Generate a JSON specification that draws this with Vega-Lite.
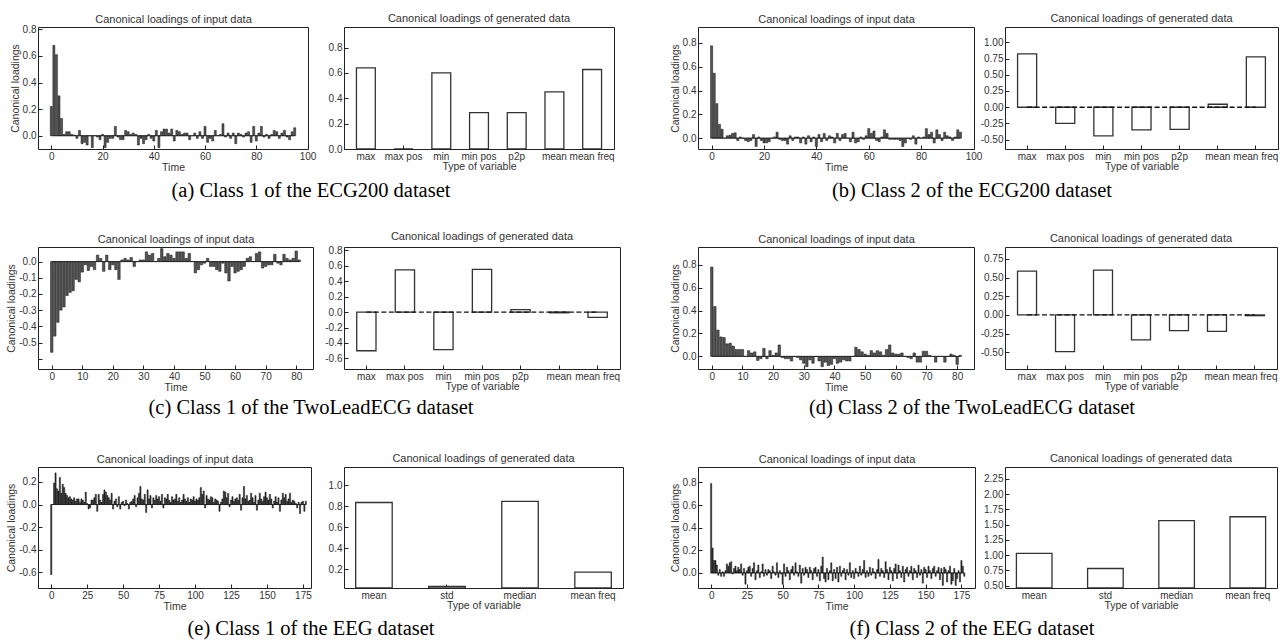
{
"$schema": "https://vega.github.io/schema/vega-lite/v6.json",
"padding": {"left": 6, "top": 12, "right": 0, "bottom": 0},
"config": {
 "view": {"stroke": "#222", "strokeWidth": 1},
 "axis": {"domain": false, "grid": false, "ticks": true, "offset": -4, "tickSize": 4, "tickColor": "#222", "tickWidth": 1, "labelFont": "Liberation Sans", "labelFontSize": 10, "labelColor": "#333", "labelPadding": 2, "labelFlush": false, "labelOverlap": false, "labelBound": false, "titleFont": "Liberation Sans", "titleFontSize": 10.5, "titleFontWeight": "normal", "titleColor": "#333", "titlePadding": 1},
 "axisY": {"titlePadding": 2},
 "title": {"font": "Liberation Sans", "fontSize": 11, "fontWeight": "normal", "color": "#333", "offset": 3, "frame": "group"},
 "locale": {"number": {"decimal": ".", "thousands": ",", "grouping": [3], "currency": ["$", ""], "minus": "-"}}
},
"datasets": {
 "a_in": [{"t":0,"v":0.22},{"t":1,"v":0.68},{"t":2,"v":0.61},{"t":3,"v":0.30},{"t":4,"v":0.13},{"t":5,"v":0.01},{"t":6,"v":0.03},{"t":7,"v":0.03},{"t":8,"v":0.01},{"t":9,"v":0.005},
  {"t":10,"v":-0.02},{"t":11,"v":0.04},{"t":12,"v":-0.06},{"t":13,"v":-0.05},{"t":14,"v":-0.07},{"t":15,"v":0.0},{"t":16,"v":-0.09},{"t":17,"v":0.0},{"t":18,"v":-0.01},{"t":19,"v":-0.03},
  {"t":20,"v":0.01},{"t":21,"v":-0.09},{"t":22,"v":-0.05},{"t":23,"v":-0.02},{"t":24,"v":-0.02},{"t":25,"v":0.07},{"t":26,"v":-0.01},{"t":27,"v":-0.03},{"t":28,"v":-0.03},{"t":29,"v":0.04},
  {"t":30,"v":0.03},{"t":31,"v":0.01},{"t":32,"v":0.02},{"t":33,"v":0.01},{"t":34,"v":-0.07},{"t":35,"v":-0.02},{"t":36,"v":-0.06},{"t":37,"v":-0.03},{"t":38,"v":0.01},{"t":39,"v":-0.02},
  {"t":40,"v":-0.04},{"t":41,"v":0.04},{"t":42,"v":-0.09},{"t":43,"v":0.03},{"t":44,"v":0.05},{"t":45,"v":0.05},{"t":46,"v":0.02},{"t":47,"v":0.05},{"t":48,"v":-0.04},{"t":49,"v":0.04},
  {"t":50,"v":0.03},{"t":51,"v":0.01},{"t":52,"v":0.02},{"t":53,"v":0.02},{"t":54,"v":-0.03},{"t":55,"v":0.0},{"t":56,"v":0.02},{"t":57,"v":-0.02},{"t":58,"v":0.03},{"t":59,"v":-0.02},
  {"t":60,"v":0.07},{"t":61,"v":-0.05},{"t":62,"v":-0.02},{"t":63,"v":-0.04},{"t":64,"v":0.04},{"t":65,"v":0.0},{"t":66,"v":0.01},{"t":67,"v":0.09},{"t":68,"v":-0.01},{"t":69,"v":0.02},
  {"t":70,"v":-0.02},{"t":71,"v":0.02},{"t":72,"v":-0.06},{"t":73,"v":0.02},{"t":74,"v":0.01},{"t":75,"v":-0.01},{"t":76,"v":0.02},{"t":77,"v":0.03},{"t":78,"v":-0.05},{"t":79,"v":0.07},
  {"t":80,"v":-0.04},{"t":81,"v":0.02},{"t":82,"v":0.07},{"t":83,"v":-0.01},{"t":84,"v":0.01},{"t":85,"v":-0.02},{"t":86,"v":0.01},{"t":87,"v":0.04},{"t":88,"v":0.03},{"t":89,"v":-0.02},
  {"t":90,"v":0.02},{"t":91,"v":0.04},{"t":92,"v":-0.01},{"t":93,"v":-0.03},{"t":94,"v":0.03},{"t":95,"v":0.06}],
 "b_in": [{"t":0,"v":0.775},{"t":1,"v":0.545},{"t":2,"v":0.29},{"t":3,"v":0.115},{"t":4,"v":0.075},{"t":5,"v":0.0},{"t":6,"v":0.02},{"t":7,"v":0.025},{"t":8,"v":0.04},{"t":9,"v":0.045},
  {"t":10,"v":-0.02},{"t":11,"v":0.01},{"t":12,"v":0.0},{"t":13,"v":-0.02},{"t":14,"v":-0.03},{"t":15,"v":-0.02},{"t":16,"v":0.03},{"t":17,"v":-0.07},{"t":18,"v":0.01},{"t":19,"v":-0.02},
  {"t":20,"v":-0.04},{"t":21,"v":-0.04},{"t":22,"v":-0.03},{"t":23,"v":0.0},{"t":24,"v":0.01},{"t":25,"v":0.05},{"t":26,"v":-0.01},{"t":27,"v":-0.02},{"t":28,"v":-0.02},{"t":29,"v":-0.05},
  {"t":30,"v":0.02},{"t":31,"v":-0.02},{"t":32,"v":0.01},{"t":33,"v":0.01},{"t":34,"v":-0.04},{"t":35,"v":0.01},{"t":36,"v":-0.05},{"t":37,"v":0.02},{"t":38,"v":-0.03},{"t":39,"v":0.01},
  {"t":40,"v":-0.07},{"t":41,"v":0.03},{"t":42,"v":-0.03},{"t":43,"v":0.04},{"t":44,"v":-0.02},{"t":45,"v":0.02},{"t":46,"v":0.01},{"t":47,"v":-0.04},{"t":48,"v":0.04},{"t":49,"v":-0.02},
  {"t":50,"v":0.03},{"t":51,"v":0.04},{"t":52,"v":0.0},{"t":53,"v":-0.03},{"t":54,"v":0.05},{"t":55,"v":-0.04},{"t":56,"v":-0.03},{"t":57,"v":0.01},{"t":58,"v":-0.01},{"t":59,"v":0.02},
  {"t":60,"v":0.08},{"t":61,"v":0.04},{"t":62,"v":0.06},{"t":63,"v":-0.02},{"t":64,"v":-0.03},{"t":65,"v":0.01},{"t":66,"v":0.07},{"t":67,"v":0.04},{"t":68,"v":-0.01},{"t":69,"v":-0.01},
  {"t":70,"v":-0.01},{"t":71,"v":-0.01},{"t":72,"v":-0.02},{"t":73,"v":-0.07},{"t":74,"v":-0.04},{"t":75,"v":0.0},{"t":76,"v":-0.01},{"t":77,"v":0.02},{"t":78,"v":-0.05},{"t":79,"v":0.01},
  {"t":80,"v":0.0},{"t":81,"v":0.01},{"t":82,"v":0.08},{"t":83,"v":0.03},{"t":84,"v":0.05},{"t":85,"v":-0.04},{"t":86,"v":0.07},{"t":87,"v":0.03},{"t":88,"v":-0.02},{"t":89,"v":0.05},
  {"t":90,"v":0.02},{"t":91,"v":0.01},{"t":92,"v":-0.02},{"t":93,"v":0.01},{"t":94,"v":0.07},{"t":95,"v":0.05}],
 "c_in": [{"t":0,"v":-0.56},{"t":1,"v":-0.46},{"t":2,"v":-0.375},{"t":3,"v":-0.30},{"t":4,"v":-0.28},{"t":5,"v":-0.21},{"t":6,"v":-0.19},{"t":7,"v":-0.18},{"t":8,"v":-0.11},{"t":9,"v":-0.125},
  {"t":10,"v":-0.065},{"t":11,"v":-0.02},{"t":12,"v":-0.055},{"t":13,"v":-0.03},{"t":14,"v":-0.05},{"t":15,"v":0.04},{"t":16,"v":0.02},{"t":17,"v":-0.06},{"t":18,"v":0.04},{"t":19,"v":-0.05},
  {"t":20,"v":-0.02},{"t":21,"v":-0.05},{"t":22,"v":-0.11},{"t":23,"v":0.01},{"t":24,"v":0.02},{"t":25,"v":0.01},{"t":26,"v":0.025},{"t":27,"v":-0.03},{"t":28,"v":0.0},{"t":29,"v":0.01},
  {"t":30,"v":0.01},{"t":31,"v":0.06},{"t":32,"v":0.04},{"t":33,"v":0.05},{"t":34,"v":0.0},{"t":35,"v":0.02},{"t":36,"v":0.08},{"t":37,"v":0.03},{"t":38,"v":0.05},{"t":39,"v":0.04},
  {"t":40,"v":0.02},{"t":41,"v":0.06},{"t":42,"v":0.06},{"t":43,"v":0.06},{"t":44,"v":0.02},{"t":45,"v":0.05},{"t":46,"v":0.0},{"t":47,"v":-0.07},{"t":48,"v":-0.05},{"t":49,"v":-0.02},
  {"t":50,"v":-0.01},{"t":51,"v":0.02},{"t":52,"v":-0.03},{"t":53,"v":-0.03},{"t":54,"v":-0.05},{"t":55,"v":-0.06},{"t":56,"v":-0.01},{"t":57,"v":-0.07},{"t":58,"v":-0.12},{"t":59,"v":-0.03},
  {"t":60,"v":-0.07},{"t":61,"v":-0.06},{"t":62,"v":-0.05},{"t":63,"v":-0.03},{"t":64,"v":0.02},{"t":65,"v":0.03},{"t":66,"v":0.0},{"t":67,"v":0.05},{"t":68,"v":0.06},{"t":69,"v":-0.04},
  {"t":70,"v":-0.03},{"t":71,"v":-0.02},{"t":72,"v":-0.02},{"t":73,"v":0.045},{"t":74,"v":-0.01},{"t":75,"v":-0.02},{"t":76,"v":0.045},{"t":77,"v":0.02},{"t":78,"v":0.01},{"t":79,"v":0.02},
  {"t":80,"v":0.065},{"t":81,"v":0.01}],
 "d_in": [{"t":0,"v":0.78},{"t":1,"v":0.435},{"t":2,"v":0.23},{"t":3,"v":0.17},{"t":4,"v":0.165},{"t":5,"v":0.11},{"t":6,"v":0.115},{"t":7,"v":0.09},{"t":8,"v":0.06},{"t":9,"v":0.06},
  {"t":10,"v":0.06},{"t":11,"v":0.0},{"t":12,"v":0.05},{"t":13,"v":0.03},{"t":14,"v":0.04},{"t":15,"v":-0.035},{"t":16,"v":-0.02},{"t":17,"v":0.07},{"t":18,"v":-0.02},{"t":19,"v":0.05},
  {"t":20,"v":0.01},{"t":21,"v":0.03},{"t":22,"v":0.10},{"t":23,"v":-0.01},{"t":24,"v":-0.02},{"t":25,"v":-0.02},{"t":26,"v":-0.04},{"t":27,"v":0.0},{"t":28,"v":-0.01},{"t":29,"v":-0.03},
  {"t":30,"v":-0.06},{"t":31,"v":-0.09},{"t":32,"v":-0.03},{"t":33,"v":-0.06},{"t":34,"v":0.0},{"t":35,"v":-0.04},{"t":36,"v":-0.09},{"t":37,"v":-0.05},{"t":38,"v":-0.08},{"t":39,"v":-0.07},
  {"t":40,"v":-0.02},{"t":41,"v":-0.06},{"t":42,"v":-0.05},{"t":43,"v":-0.03},{"t":44,"v":-0.04},{"t":45,"v":-0.04},{"t":46,"v":0.0},{"t":47,"v":0.08},{"t":48,"v":0.06},{"t":49,"v":0.04},
  {"t":50,"v":0.02},{"t":51,"v":0.01},{"t":52,"v":0.05},{"t":53,"v":0.03},{"t":54,"v":0.05},{"t":55,"v":0.04},{"t":56,"v":0.01},{"t":57,"v":0.06},{"t":58,"v":0.10},{"t":59,"v":0.03},
  {"t":60,"v":0.02},{"t":61,"v":0.02},{"t":62,"v":0.03},{"t":63,"v":0.0},{"t":64,"v":-0.01},{"t":65,"v":-0.02},{"t":66,"v":0.03},{"t":67,"v":-0.05},{"t":68,"v":-0.05},{"t":69,"v":0.045},
  {"t":70,"v":0.045},{"t":71,"v":0.01},{"t":72,"v":0.0},{"t":73,"v":-0.05},{"t":74,"v":0.0},{"t":75,"v":0.0},{"t":76,"v":-0.05},{"t":77,"v":0.0},{"t":78,"v":0.02},{"t":79,"v":0.01},
  {"t":80,"v":-0.07},{"t":81,"v":0.01}],
 "e_in": [{"t":0,"v":-0.62},{"t":1,"v":0.0},{"t":2,"v":0.19},{"t":3,"v":0.28},{"t":4,"v":0.14},{"t":5,"v":0.12},{"t":6,"v":0.24},{"t":7,"v":0.10},{"t":8,"v":0.18},{"t":9,"v":0.15},
  {"t":10,"v":0.10},{"t":11,"v":0.08},{"t":12,"v":0.06},{"t":13,"v":0.07},{"t":14,"v":0.05},{"t":15,"v":0.04},{"t":16,"v":0.06},{"t":17,"v":0.03},{"t":18,"v":0.05},{"t":19,"v":0.05},
  {"t":20,"v":0.02},{"t":21,"v":0.05},{"t":22,"v":0.04},{"t":23,"v":0.02},{"t":24,"v":0.11},{"t":25,"v":0.01},{"t":26,"v":-0.04},{"t":27,"v":-0.03},{"t":28,"v":0.04},{"t":29,"v":0.04},
  {"t":30,"v":0.06},{"t":31,"v":0.09},{"t":32,"v":-0.06},{"t":33,"v":0.09},{"t":34,"v":0.04},{"t":35,"v":0.02},{"t":36,"v":0.09},{"t":37,"v":0.13},{"t":38,"v":0.11},{"t":39,"v":0.08},
  {"t":40,"v":0.06},{"t":41,"v":0.04},{"t":42,"v":0.10},{"t":43,"v":-0.04},{"t":44,"v":0.03},{"t":45,"v":0.05},{"t":46,"v":-0.02},{"t":47,"v":0.07},{"t":48,"v":-0.04},{"t":49,"v":0.02},
  {"t":50,"v":0.03},{"t":51,"v":-0.01},{"t":52,"v":0.04},{"t":53,"v":0.01},{"t":54,"v":-0.04},{"t":55,"v":0.02},{"t":56,"v":0.03},{"t":57,"v":0.05},{"t":58,"v":0.08},{"t":59,"v":-0.02},
  {"t":60,"v":0.06},{"t":61,"v":0.10},{"t":62,"v":0.16},{"t":63,"v":0.05},{"t":64,"v":0.04},{"t":65,"v":0.09},{"t":66,"v":-0.07},{"t":67,"v":0.13},{"t":68,"v":0.05},{"t":69,"v":0.08},
  {"t":70,"v":-0.03},{"t":71,"v":0.06},{"t":72,"v":0.04},{"t":73,"v":0.08},{"t":74,"v":0.05},{"t":75,"v":0.07},{"t":76,"v":0.03},{"t":77,"v":0.09},{"t":78,"v":-0.03},{"t":79,"v":0.06},
  {"t":80,"v":0.05},{"t":81,"v":0.09},{"t":82,"v":0.04},{"t":83,"v":0.02},{"t":84,"v":0.07},{"t":85,"v":0.04},{"t":86,"v":0.05},{"t":87,"v":0.09},{"t":88,"v":0.03},{"t":89,"v":0.06},
  {"t":90,"v":0.02},{"t":91,"v":0.04},{"t":92,"v":0.09},{"t":93,"v":0.05},{"t":94,"v":0.03},{"t":95,"v":0.06},{"t":96,"v":0.02},{"t":97,"v":0.05},{"t":98,"v":0.04},{"t":99,"v":0.07},
  {"t":100,"v":0.03},{"t":101,"v":0.05},{"t":102,"v":0.04},{"t":103,"v":0.06},{"t":104,"v":0.15},{"t":105,"v":0.09},{"t":106,"v":0.12},{"t":107,"v":-0.03},{"t":108,"v":0.08},{"t":109,"v":0.05},
  {"t":110,"v":0.04},{"t":111,"v":0.07},{"t":112,"v":0.06},{"t":113,"v":0.02},{"t":114,"v":0.05},{"t":115,"v":0.04},{"t":116,"v":0.03},{"t":117,"v":-0.06},{"t":118,"v":0.02},{"t":119,"v":0.05},
  {"t":120,"v":0.12},{"t":121,"v":0.11},{"t":122,"v":0.06},{"t":123,"v":0.10},{"t":124,"v":-0.02},{"t":125,"v":0.04},{"t":126,"v":0.07},{"t":127,"v":0.03},{"t":128,"v":0.05},{"t":129,"v":0.06},
  {"t":130,"v":0.04},{"t":131,"v":0.09},{"t":132,"v":-0.05},{"t":133,"v":0.06},{"t":134,"v":0.16},{"t":135,"v":0.05},{"t":136,"v":0.08},{"t":137,"v":0.03},{"t":138,"v":0.04},{"t":139,"v":0.10},
  {"t":140,"v":0.06},{"t":141,"v":0.02},{"t":142,"v":0.08},{"t":143,"v":-0.05},{"t":144,"v":0.04},{"t":145,"v":0.10},{"t":146,"v":0.05},{"t":147,"v":0.03},{"t":148,"v":0.07},{"t":149,"v":0.11},
  {"t":150,"v":0.06},{"t":151,"v":0.04},{"t":152,"v":0.09},{"t":153,"v":0.05},{"t":154,"v":-0.03},{"t":155,"v":0.03},{"t":156,"v":0.07},{"t":157,"v":0.02},{"t":158,"v":0.06},{"t":159,"v":-0.06},
  {"t":160,"v":0.04},{"t":161,"v":0.10},{"t":162,"v":0.06},{"t":163,"v":0.09},{"t":164,"v":0.03},{"t":165,"v":0.05},{"t":166,"v":0.10},{"t":167,"v":0.02},{"t":168,"v":0.04},{"t":169,"v":0.03},
  {"t":170,"v":0.01},{"t":171,"v":-0.03},{"t":172,"v":0.02},{"t":173,"v":-0.08},{"t":174,"v":0.02},{"t":175,"v":0.03},{"t":176,"v":-0.06},{"t":177,"v":0.03}],
 "f_in": [{"t":0,"v":0.79},{"t":1,"v":0.22},{"t":2,"v":0.11},{"t":3,"v":0.11},{"t":4,"v":0.07},{"t":5,"v":-0.02},{"t":6,"v":0.03},{"t":7,"v":-0.03},{"t":8,"v":0.01},{"t":9,"v":-0.03},
  {"t":10,"v":0.02},{"t":11,"v":0.08},{"t":12,"v":0.06},{"t":13,"v":0.09},{"t":14,"v":0.10},{"t":15,"v":-0.01},{"t":16,"v":0.04},{"t":17,"v":0.06},{"t":18,"v":0.02},{"t":19,"v":0.05},
  {"t":20,"v":0.03},{"t":21,"v":0.08},{"t":22,"v":-0.02},{"t":23,"v":0.04},{"t":24,"v":-0.10},{"t":25,"v":0.02},{"t":26,"v":0.05},{"t":27,"v":0.06},{"t":28,"v":-0.03},{"t":29,"v":0.04},
  {"t":30,"v":0.09},{"t":31,"v":-0.06},{"t":32,"v":0.02},{"t":33,"v":0.07},{"t":34,"v":-0.04},{"t":35,"v":0.01},{"t":36,"v":0.08},{"t":37,"v":-0.03},{"t":38,"v":0.03},{"t":39,"v":-0.02},
  {"t":40,"v":0.03},{"t":41,"v":0.02},{"t":42,"v":-0.05},{"t":43,"v":0.06},{"t":44,"v":0.01},{"t":45,"v":-0.02},{"t":46,"v":0.09},{"t":47,"v":-0.04},{"t":48,"v":0.02},{"t":49,"v":-0.01},
  {"t":50,"v":-0.10},{"t":51,"v":0.08},{"t":52,"v":-0.03},{"t":53,"v":0.05},{"t":54,"v":0.02},{"t":55,"v":-0.06},{"t":56,"v":0.03},{"t":57,"v":0.06},{"t":58,"v":-0.02},{"t":59,"v":0.09},
  {"t":60,"v":0.01},{"t":61,"v":-0.03},{"t":62,"v":0.07},{"t":63,"v":-0.09},{"t":64,"v":0.04},{"t":65,"v":-0.02},{"t":66,"v":0.05},{"t":67,"v":0.03},{"t":68,"v":-0.04},{"t":69,"v":0.05},
  {"t":70,"v":0.02},{"t":71,"v":-0.06},{"t":72,"v":0.04},{"t":73,"v":0.05},{"t":74,"v":-0.03},{"t":75,"v":0.03},{"t":76,"v":-0.07},{"t":77,"v":0.06},{"t":78,"v":0.14},{"t":79,"v":-0.05},
  {"t":80,"v":-0.08},{"t":81,"v":0.04},{"t":82,"v":-0.06},{"t":83,"v":0.02},{"t":84,"v":0.09},{"t":85,"v":-0.07},{"t":86,"v":0.03},{"t":87,"v":-0.05},{"t":88,"v":0.05},{"t":89,"v":-0.08},
  {"t":90,"v":0.06},{"t":91,"v":-0.03},{"t":92,"v":0.02},{"t":93,"v":0.04},{"t":94,"v":-0.06},{"t":95,"v":0.03},{"t":96,"v":-0.02},{"t":97,"v":0.09},{"t":98,"v":-0.04},{"t":99,"v":0.02},
  {"t":100,"v":-0.05},{"t":101,"v":0.04},{"t":102,"v":0.01},{"t":103,"v":-0.03},{"t":104,"v":0.06},{"t":105,"v":-0.02},{"t":106,"v":0.03},{"t":107,"v":0.11},{"t":108,"v":-0.04},{"t":109,"v":0.02},
  {"t":110,"v":-0.03},{"t":111,"v":0.05},{"t":112,"v":-0.02},{"t":113,"v":0.04},{"t":114,"v":0.01},{"t":115,"v":-0.05},{"t":116,"v":0.03},{"t":117,"v":0.12},{"t":118,"v":-0.03},{"t":119,"v":0.04},
  {"t":120,"v":0.02},{"t":121,"v":-0.04},{"t":122,"v":0.10},{"t":123,"v":0.03},{"t":124,"v":-0.06},{"t":125,"v":0.05},{"t":126,"v":0.02},{"t":127,"v":-0.07},{"t":128,"v":0.04},{"t":129,"v":0.08},
  {"t":130,"v":-0.05},{"t":131,"v":0.07},{"t":132,"v":0.02},{"t":133,"v":-0.04},{"t":134,"v":0.06},{"t":135,"v":-0.08},{"t":136,"v":0.03},{"t":137,"v":0.05},{"t":138,"v":-0.03},{"t":139,"v":0.02},
  {"t":140,"v":0.06},{"t":141,"v":-0.06},{"t":142,"v":0.04},{"t":143,"v":0.02},{"t":144,"v":-0.04},{"t":145,"v":0.07},{"t":146,"v":-0.02},{"t":147,"v":0.03},{"t":148,"v":-0.09},{"t":149,"v":0.05},
  {"t":150,"v":0.03},{"t":151,"v":-0.04},{"t":152,"v":0.06},{"t":153,"v":0.02},{"t":154,"v":-0.05},{"t":155,"v":0.04},{"t":156,"v":0.06},{"t":157,"v":-0.03},{"t":158,"v":0.02},{"t":159,"v":0.05},
  {"t":160,"v":-0.06},{"t":161,"v":0.04},{"t":162,"v":-0.11},{"t":163,"v":0.05},{"t":164,"v":0.03},{"t":165,"v":-0.08},{"t":166,"v":0.02},{"t":167,"v":0.06},{"t":168,"v":-0.10},{"t":169,"v":-0.07},
  {"t":170,"v":0.04},{"t":171,"v":-0.11},{"t":172,"v":-0.05},{"t":173,"v":0.02},{"t":174,"v":-0.08},{"t":175,"v":0.11},{"t":176,"v":0.06},{"t":177,"v":-0.03}],
 "a_gen": [{"k":"max","v":0.64},{"k":"max pos","v":0.0},{"k":"min","v":0.6},{"k":"min pos","v":0.287},{"k":"p2p","v":0.287},{"k":"mean","v":0.45},{"k":"mean freq","v":0.627}],
 "b_gen": [{"k":"max","v":0.82},{"k":"max pos","v":-0.25},{"k":"min","v":-0.44},{"k":"min pos","v":-0.35},{"k":"p2p","v":-0.34},{"k":"mean","v":0.046},{"k":"mean freq","v":0.775}],
 "c_gen": [{"k":"max","v":-0.5},{"k":"max pos","v":0.545},{"k":"min","v":-0.485},{"k":"min pos","v":0.55},{"k":"p2p","v":0.03},{"k":"mean","v":-0.01},{"k":"mean freq","v":-0.07}],
 "d_gen": [{"k":"max","v":0.587},{"k":"max pos","v":-0.49},{"k":"min","v":0.6},{"k":"min pos","v":-0.333},{"k":"p2p","v":-0.21},{"k":"mean","v":-0.22},{"k":"mean freq","v":-0.01}],
 "e_gen": [{"k":"mean","v":0.836},{"k":"std","v":0.04},{"k":"median","v":0.846},{"k":"mean freq","v":0.175}],
 "f_gen": [{"k":"mean","v":1.03},{"k":"std","v":0.78},{"k":"median","v":1.567},{"k":"mean freq","v":1.63}]
},
"spacing": 45,
"hconcat": [
 {"columns": 2, "bounds": "flush", "spacing": {"row": 98, "column": 31},
  "concat": [
   {"width": 270, "height": 122, "data": {"name": "a_in"},
    "title": {"text": "(a) Class 1 of the ECG200 dataset", "orient": "bottom", "anchor": "middle", "font": "Liberation Serif", "fontSize": 20.5, "color": "#000", "dx": 138, "offset": 8},
    "resolve": {"axis": {"x": "independent", "y": "independent"}},
    "layer": [
     {"mark": {"type": "bar", "orient": "vertical", "size": 2.0, "fill": "#555", "stroke": "#111", "strokeWidth": 0.5, "clip": true},
      "encoding": {"x": {"field": "t", "type": "quantitative", "scale": {"domain": [-5.19, 100.19], "nice": false, "padding": 0}, "axis": {"values": [0,20,40,60,80,100], "title": "Time", "labelOverlap": false}},
                   "y": {"field": "v", "type": "quantitative", "stack": null, "scale": {"domain": [-0.1, 0.818], "nice": false}, "axis": {"values": [0,0.2,0.4,0.6,0.8], "format": ".1f", "title": "Canonical loadings", "labelOverlap": false}}}},
     {"mark": {"type": "line", "color": "#111", "strokeWidth": 0.8},
      "encoding": {"x": {"field": "t", "type": "quantitative", "axis": {"orient": "top", "offset": 0, "title": "Canonical loadings of input data", "titleFontSize": 11, "labels": false, "ticks": false, "domain": false, "titlePadding": 3}},
                   "y": {"datum": 0, "type": "quantitative", "axis": null}}}
    ]},
   {"width": 270, "height": 122, "data": {"name": "a_gen"},
    "title": "Canonical loadings of generated data",
    "mark": {"type": "bar", "fill": "#fff", "stroke": "#333", "strokeWidth": 1.3, "clip": true},
    "encoding": {"x": {"field": "k", "type": "nominal", "scale": {"domain": ["max","max pos","min","min pos","p2p","mean","mean freq"], "paddingInner": 0.5, "paddingOuter": 0.33}, "axis": {"title": "Type of variable", "labelAngle": 0, "bandPosition": 0.5, "titlePadding": 0, "labelOverlap": false}},
                 "y": {"field": "v", "type": "quantitative", "stack": null, "scale": {"domain": [0, 0.962], "nice": false}, "axis": {"values": [0,0.2,0.4,0.6,0.8], "format": ".1f", "title": null, "labelOverlap": false}}}},
   {"width": 275, "height": 122, "data": {"name": "c_in"},
    "title": {"text": "(c) Class 1 of the TwoLeadECG dataset", "orient": "bottom", "anchor": "middle", "font": "Liberation Serif", "fontSize": 20.5, "color": "#000", "dx": 135.5, "offset": 5},
    "resolve": {"axis": {"x": "independent", "y": "independent"}},
    "layer": [
     {"mark": {"type": "bar", "orient": "vertical", "size": 2.45, "fill": "#555", "stroke": "#111", "strokeWidth": 0.5, "clip": true},
      "encoding": {"x": {"field": "t", "type": "quantitative", "scale": {"domain": [-4.49, 85.49], "nice": false, "padding": 0}, "axis": {"values": [0,10,20,30,40,50,60,70,80], "title": "Time", "labelOverlap": false}},
                   "y": {"field": "v", "type": "quantitative", "stack": null, "scale": {"domain": [-0.663, 0.09], "nice": false}, "axis": {"values": [0,-0.1,-0.2,-0.3,-0.4,-0.5,-0.6], "labelExpr": "datum.value < -0.55 ? '' : format(datum.value, '.1f')", "title": "Canonical loadings", "labelOverlap": false}}}},
     {"mark": {"type": "line", "color": "#111", "strokeWidth": 0.8},
      "encoding": {"x": {"field": "t", "type": "quantitative", "axis": {"orient": "top", "offset": 0, "title": "Canonical loadings of input data", "titleFontSize": 11, "labels": false, "ticks": false, "domain": false, "titlePadding": 3}},
                   "y": {"datum": 0, "type": "quantitative", "axis": null}}}
    ]},
   {"width": 276, "height": 122, "data": {"name": "c_gen"},
    "title": "Canonical loadings of generated data",
    "resolve": {"axis": {"x": "independent", "y": "independent"}},
    "layer": [
     {"mark": {"type": "bar", "fill": "#fff", "stroke": "#333", "strokeWidth": 1.3, "clip": true},
      "encoding": {"x": {"field": "k", "type": "nominal", "scale": {"domain": ["max","max pos","min","min pos","p2p","mean","mean freq"], "paddingInner": 0.5, "paddingOuter": 0.33}, "axis": {"title": "Type of variable", "labelAngle": 0, "bandPosition": 0.5, "titlePadding": 0, "labelOverlap": false}},
                   "y": {"field": "v", "type": "quantitative", "stack": null, "scale": {"domain": [-0.736, 0.84], "nice": false}, "axis": {"values": [-0.6,-0.4,-0.2,0,0.2,0.4,0.6,0.8], "format": ".1f", "title": null, "labelOverlap": false}}}},
     {"mark": {"type": "line", "color": "#111", "strokeWidth": 1.3, "strokeDash": [5, 2.5]},
      "encoding": {"x": {"field": "k", "type": "nominal", "axis": null}, "y": {"datum": 0, "type": "quantitative", "axis": null}}}
    ]},
   {"width": 273, "height": 121, "data": {"name": "e_in"},
    "title": {"text": "(e) Class 1 of the EEG dataset", "orient": "bottom", "anchor": "middle", "font": "Liberation Serif", "fontSize": 20.5, "color": "#000", "dx": 136.5, "offset": 7},
    "resolve": {"axis": {"x": "independent", "y": "independent"}},
    "layer": [
     {"mark": {"type": "bar", "orient": "vertical", "size": 1.15, "fill": "#333", "stroke": "#111", "strokeWidth": 0.5, "clip": true},
      "encoding": {"x": {"field": "t", "type": "quantitative", "scale": {"domain": [-9.2, 180.6], "nice": false, "padding": 0}, "axis": {"values": [0,25,50,75,100,125,150,175], "title": "Time", "labelOverlap": false}},
                   "y": {"field": "v", "type": "quantitative", "stack": null, "scale": {"domain": [-0.738, 0.332], "nice": false}, "axis": {"values": [-0.6,-0.4,-0.2,0,0.2], "format": ".1f", "title": "Canonical loadings", "labelOverlap": false}}}},
     {"mark": {"type": "line", "color": "#111", "strokeWidth": 0.8},
      "encoding": {"x": {"field": "t", "type": "quantitative", "axis": {"orient": "top", "offset": 0, "title": "Canonical loadings of input data", "titleFontSize": 11, "labels": false, "ticks": false, "domain": false, "titlePadding": 3}},
                   "y": {"datum": 0, "type": "quantitative", "axis": null}}}
    ]},
   {"width": 279, "height": 121, "data": {"name": "e_gen"},
    "title": "Canonical loadings of generated data",
    "mark": {"type": "bar", "fill": "#fff", "stroke": "#333", "strokeWidth": 1.3, "clip": true},
    "encoding": {"x": {"field": "k", "type": "nominal", "scale": {"domain": ["mean","std","median","mean freq"], "paddingInner": 0.5, "paddingOuter": 0.16}, "axis": {"title": "Type of variable", "labelAngle": 0, "bandPosition": 0.5, "titlePadding": 0, "labelOverlap": false}},
                 "y": {"field": "v", "type": "quantitative", "stack": null, "scale": {"domain": [0.024, 1.173], "nice": false}, "axis": {"values": [0.2,0.4,0.6,0.8,1.0], "format": ".1f", "title": null, "labelOverlap": false}}}}
  ]},
 {"columns": 2, "bounds": "flush", "spacing": {"row": 98, "column": 30},
  "concat": [
   {"width": 276, "height": 122, "data": {"name": "b_in"},
    "title": {"text": "(b) Class 2 of the ECG200 dataset", "orient": "bottom", "anchor": "middle", "font": "Liberation Serif", "fontSize": 20.5, "color": "#000", "dx": 136, "offset": 8},
    "resolve": {"axis": {"x": "independent", "y": "independent"}},
    "layer": [
     {"mark": {"type": "bar", "orient": "vertical", "size": 2.1, "fill": "#555", "stroke": "#111", "strokeWidth": 0.5, "clip": true},
      "encoding": {"x": {"field": "t", "type": "quantitative", "scale": {"domain": [-5.19, 100.19], "nice": false, "padding": 0}, "axis": {"values": [0,20,40,60,80,100], "title": "Time", "labelOverlap": false}},
                   "y": {"field": "v", "type": "quantitative", "stack": null, "scale": {"domain": [-0.091, 0.933], "nice": false}, "axis": {"values": [0,0.2,0.4,0.6,0.8], "format": ".1f", "title": "Canonical loadings", "labelOverlap": false}}}},
     {"mark": {"type": "line", "color": "#111", "strokeWidth": 0.8},
      "encoding": {"x": {"field": "t", "type": "quantitative", "axis": {"orient": "top", "offset": 0, "title": "Canonical loadings of input data", "titleFontSize": 11, "labels": false, "ticks": false, "domain": false, "titlePadding": 3}},
                   "y": {"datum": 0, "type": "quantitative", "axis": null}}}
    ]},
   {"width": 273, "height": 122, "data": {"name": "b_gen"},
    "title": "Canonical loadings of generated data",
    "resolve": {"axis": {"x": "independent", "y": "independent"}},
    "layer": [
     {"mark": {"type": "bar", "fill": "#fff", "stroke": "#333", "strokeWidth": 1.3, "clip": true},
      "encoding": {"x": {"field": "k", "type": "nominal", "scale": {"domain": ["max","max pos","min","min pos","p2p","mean","mean freq"], "paddingInner": 0.5, "paddingOuter": 0.33}, "axis": {"title": "Type of variable", "labelAngle": 0, "bandPosition": 0.5, "titlePadding": 0, "labelOverlap": false}},
                   "y": {"field": "v", "type": "quantitative", "stack": null, "scale": {"domain": [-0.643, 1.235], "nice": false}, "axis": {"values": [-0.5,-0.25,0,0.25,0.5,0.75,1.0], "format": ".2f", "title": null, "labelOverlap": false}}}},
     {"mark": {"type": "line", "color": "#111", "strokeWidth": 1.3, "strokeDash": [5, 2.5]},
      "encoding": {"x": {"field": "k", "type": "nominal", "axis": null}, "y": {"datum": 0, "type": "quantitative", "axis": null}}}
    ]},
   {"width": 276, "height": 122, "data": {"name": "d_in"},
    "title": {"text": "(d) Class 2 of the TwoLeadECG dataset", "orient": "bottom", "anchor": "middle", "font": "Liberation Serif", "fontSize": 20.5, "color": "#000", "dx": 136, "offset": 5},
    "resolve": {"axis": {"x": "independent", "y": "independent"}},
    "layer": [
     {"mark": {"type": "bar", "orient": "vertical", "size": 2.45, "fill": "#555", "stroke": "#111", "strokeWidth": 0.5, "clip": true},
      "encoding": {"x": {"field": "t", "type": "quantitative", "scale": {"domain": [-4.49, 85.49], "nice": false, "padding": 0}, "axis": {"values": [0,10,20,30,40,50,60,70,80], "title": "Time", "labelOverlap": false}},
                   "y": {"field": "v", "type": "quantitative", "stack": null, "scale": {"domain": [-0.11, 0.955], "nice": false}, "axis": {"values": [0,0.2,0.4,0.6,0.8], "format": ".1f", "title": "Canonical loadings", "labelOverlap": false}}}},
     {"mark": {"type": "line", "color": "#111", "strokeWidth": 0.8},
      "encoding": {"x": {"field": "t", "type": "quantitative", "axis": {"orient": "top", "offset": 0, "title": "Canonical loadings of input data", "titleFontSize": 11, "labels": false, "ticks": false, "domain": false, "titlePadding": 3}},
                   "y": {"datum": 0, "type": "quantitative", "axis": null}}}
    ]},
   {"width": 272, "height": 122, "data": {"name": "d_gen"},
    "title": "Canonical loadings of generated data",
    "resolve": {"axis": {"x": "independent", "y": "independent"}},
    "layer": [
     {"mark": {"type": "bar", "fill": "#fff", "stroke": "#333", "strokeWidth": 1.3, "clip": true},
      "encoding": {"x": {"field": "k", "type": "nominal", "scale": {"domain": ["max","max pos","min","min pos","p2p","mean","mean freq"], "paddingInner": 0.5, "paddingOuter": 0.33}, "axis": {"title": "Type of variable", "labelAngle": 0, "bandPosition": 0.5, "titlePadding": 0, "labelOverlap": false}},
                   "y": {"field": "v", "type": "quantitative", "stack": null, "scale": {"domain": [-0.724, 0.91], "nice": false}, "axis": {"values": [-0.5,-0.25,0,0.25,0.5,0.75], "format": ".2f", "title": null, "labelOverlap": false}}}},
     {"mark": {"type": "line", "color": "#111", "strokeWidth": 1.3, "strokeDash": [5, 2.5]},
      "encoding": {"x": {"field": "k", "type": "nominal", "axis": null}, "y": {"datum": 0, "type": "quantitative", "axis": null}}}
    ]},
   {"width": 277, "height": 121, "data": {"name": "f_in"},
    "title": {"text": "(f) Class 2 of the EEG dataset", "orient": "bottom", "anchor": "middle", "font": "Liberation Serif", "fontSize": 20.5, "color": "#000", "dx": 135.5, "offset": 7},
    "resolve": {"axis": {"x": "independent", "y": "independent"}},
    "layer": [
     {"mark": {"type": "bar", "orient": "vertical", "size": 1.15, "fill": "#333", "stroke": "#111", "strokeWidth": 0.5, "clip": true},
      "encoding": {"x": {"field": "t", "type": "quantitative", "scale": {"domain": [-9.2, 184.5], "nice": false, "padding": 0}, "axis": {"values": [0,25,50,75,100,125,150,175], "title": "Time", "labelOverlap": false}},
                   "y": {"field": "v", "type": "quantitative", "stack": null, "scale": {"domain": [-0.133, 0.936], "nice": false}, "axis": {"values": [0,0.2,0.4,0.6,0.8], "format": ".1f", "title": "Canonical loadings", "labelOverlap": false}}}},
     {"mark": {"type": "line", "color": "#111", "strokeWidth": 0.8},
      "encoding": {"x": {"field": "t", "type": "quantitative", "axis": {"orient": "top", "offset": 0, "title": "Canonical loadings of input data", "titleFontSize": 11, "labels": false, "ticks": false, "domain": false, "titlePadding": 3}},
                   "y": {"datum": 0, "type": "quantitative", "axis": null}}}
    ]},
   {"width": 272, "height": 121, "data": {"name": "f_gen"},
    "title": "Canonical loadings of generated data",
    "mark": {"type": "bar", "fill": "#fff", "stroke": "#333", "strokeWidth": 1.3, "clip": true},
    "encoding": {"x": {"field": "k", "type": "nominal", "scale": {"domain": ["mean","std","median","mean freq"], "paddingInner": 0.5, "paddingOuter": 0.16}, "axis": {"title": "Type of variable", "labelAngle": 0, "bandPosition": 0.5, "titlePadding": 0, "labelOverlap": false}},
                 "y": {"field": "v", "type": "quantitative", "stack": null, "scale": {"domain": [0.46, 2.447], "nice": false}, "axis": {"values": [0.5,0.75,1.0,1.25,1.5,1.75,2.0,2.25], "format": ".2f", "title": null, "labelOverlap": false}}}}
  ]}
]
}
